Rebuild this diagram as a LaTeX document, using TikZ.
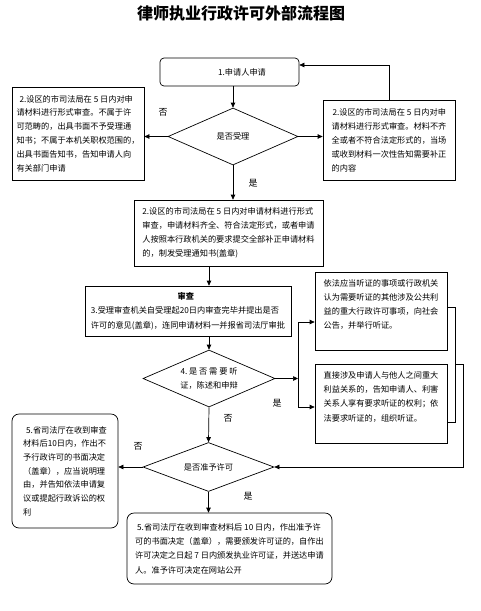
\documentclass[tikz,border=0pt]{standalone}
\usepackage{fontspec}
\newfontfamily\cjk{Noto Sans CJK SC}
\usetikzlibrary{shapes.geometric,arrows.meta}
\newlength\jw
\newcommand\bodyfont[2]{\cjk\fontsize{8.2}{#1}\selectfont\setlength\jw{#2}}
\newcommand\jl[1]{\hbox{#1}}
\newcommand\jls[1]{\hbox to \jw{#1}}
\tikzset{
  sqbox/.style={draw, line width=0.7pt, align=left, inner xsep=0pt, inner ysep=0pt},
  rdbox/.style={sqbox, rounded corners=7pt},
  dia/.style={draw, diamond, line width=0.7pt, inner sep=0pt, aspect=2.3, align=center},
  arr/.style={line width=0.7pt, -{Triangle[length=5pt,width=4.5pt]}},
  ln/.style={line width=0.7pt},
  lbl/.style={font=\cjk\fontsize{9}{10}\selectfont, inner sep=0pt}
}
\begin{document}
\begin{tikzpicture}[x=1pt,y=-1pt]
\useasboundingbox (0,0) rectangle (481,611);
\node[font=\cjk\bfseries\fontsize{16}{18}\selectfont] (title) at (241,13) {律师执业行政许可外部流程图};

\node[draw, line width=0.7pt, rounded corners=4pt, minimum width=139pt, minimum height=28pt, font=\bodyfont{12}{0pt}] (n1) at (229.5,72) {\hspace*{25pt}1.申请人申请};

\node[dia, minimum width=130pt, minimum height=57pt, font=\bodyfont{12}{0pt}] (d1) at (233,136.5) {是否受理};

\node[sqbox, minimum width=132pt, minimum height=93pt, font=\bodyfont{13.8}{122pt}] (lbox) at (78,133.5)
{\jl{\hspace*{3pt}2.设区的市司法局在 5 日内对申}\\
 \jl{请材料进行形式审查。不属于许}\\
 \jl{可范畴的，出具书面不予受理通}\\
 \jl{知书；不属于本机关职权范围的，}\\
 \jl{出具书面告知书，告知申请人向}\\
 有关部门申请};

\node[sqbox, minimum width=132pt, minimum height=80pt, font=\bodyfont{14}{116pt}] (rbox) at (389,140)
{\jl{\hspace*{1pt}2.设区的市司法局在 5 日内对申}\\
 \jl{请材料进行形式审查。材料不齐}\\
 \jl{全或者不符合法定形式的，当场}\\
 \jl{或收到材料一次性告知需要补正}\\
 的内容};

\node[sqbox, minimum width=189pt, minimum height=66pt, font=\bodyfont{13.8}{176pt}] (n2) at (228.5,233)
{\jl{2.设区的市司法局在 5 日内对申请材料进行形式}\\
 \jl{审查，申请材料齐全、符合法定形式，或者申请}\\
 \jl{人按照本行政机关的要求提交全部补正申请材料}\\
 的，制发受理通知书(盖章)};

\node[sqbox, minimum width=206pt, minimum height=50pt, font=\bodyfont{14.5}{190pt}] (n3) at (188,311)
{\jls{\hfil\bfseries 审查\hfil}\\
 \jl{3.受理审查机关自受理起20日内审查完毕并提出是否}\\
 \jl{许可的意见(盖章)，连同申请材料一并报省司法厅审批}};

\node[dia, minimum width=132pt, minimum height=57pt, font=\bodyfont{14}{57pt}] (d4) at (209,378.5)
{\jls{4.\hfil 是\hfil 否\hfil 需\hfil 要\hfil 听}\\证，陈述和申辩};

\node[sqbox, minimum width=132pt, minimum height=78pt, font=\bodyfont{14}{116pt}] (boxA) at (381,311)
{\jl{依法应当听证的事项或行政机关}\\
 \jl{认为需要听证的其他涉及公共利}\\
 \jl{益的重大行政许可事项，向社会}\\
 公告，并举行听证。\\
 \mbox{}};

\node[sqbox, minimum width=132pt, minimum height=79pt, font=\bodyfont{14.3}{116pt}] (boxB) at (381,403.5)
{\jl{直接涉及申请人与他人之间重大}\\
 \jl{利益关系的，告知申请人、利害}\\
 \jl{关系人享有要求听证的权利；依}\\
 法要求听证的，组织听证。\\
 \mbox{}};

\node[dia, minimum width=131pt, minimum height=49pt, font=\bodyfont{12}{0pt}] (d5) at (208.5,467) {是否准予许可};

\node[rdbox, minimum width=106pt, minimum height=114pt, font=\bodyfont{13.7}{90pt}] (box5) at (65,471)
{\jl{\hspace*{3pt}5.省司法厅在收到审查}\\
 \jl{材料后10日内，作出不}\\
 \jl{予行政许可的书面决定}\\
 \jl{（盖章），应当说明理}\\
 \jl{由，并告知依法申请复}\\
 \jl{议或提起行政诉讼的权}\\
 利};

\node[rdbox, minimum width=205pt, minimum height=71pt, font=\bodyfont{14.3}{187pt}] (box6) at (229.5,548.5)
{\jl{\hspace*{2pt}5.省司法厅在收到审查材料后 10 日内，作出准予许}\\
 \jl{可的书面决定（盖章），需要颁发许可证的，自作出}\\
 \jl{许可决定之日起 7 日内颁发执业许可证，并送达申请}\\
 人。准予许可决定在网站公开};

% labels
\node[lbl] (no1) at (163,112) {否};
\node[lbl] (yes1) at (253,183) {是};
\node[lbl] (yes4) at (277,403) {是};
\node[lbl] (no4) at (228,418) {否};
\node[lbl] (no5) at (138,446) {否};
\node[lbl] (yes5) at (248,496) {是};

% connectors
\draw[arr] (d1.north |- n1.south) -- (d1.north);
\draw[arr] (d1.west) -- (d1.west -| lbox.east);
\draw[arr] (d1.east) -- (d1.east -| rbox.west);
\draw[arr] (rbox.north) |- ([yshift=7pt]n1.east);
\draw[arr] (d1.south) -- (d1.south |- n2.north);
\draw[arr] (d4.north |- n2.south) -- (d4.north |- n3.north);
\draw[arr] (d4.north |- n3.south) -- (d4.north);

\coordinate (jt) at (298,322);
\coordinate (jb) at (298,407);
\draw[arr] (d4.east) -- (d4.east -| jt);
\draw[ln] (jt) -- (jb);
\draw[arr] (jt) -- (jt -| boxA.west);
\draw[arr] (jb) -- (jb -| boxB.west);

\coordinate (bt) at (455,307);
\coordinate (bb) at (455,422);
\draw[ln] (bt -| boxA.east) -- (bt) -- (bb) -- (bb -| boxB.east);
\coordinate (ct) at (463,364);
\draw[arr] (ct -| bt) -- (ct) |- (d5.east);

\draw[arr] (d4.south) -- (d5.north);
\draw[arr] (d5.west) -- (d5.west -| box5.east);
\draw[arr] (d5.south) -- (d5.south |- box6.north);
\end{tikzpicture}
\end{document}
